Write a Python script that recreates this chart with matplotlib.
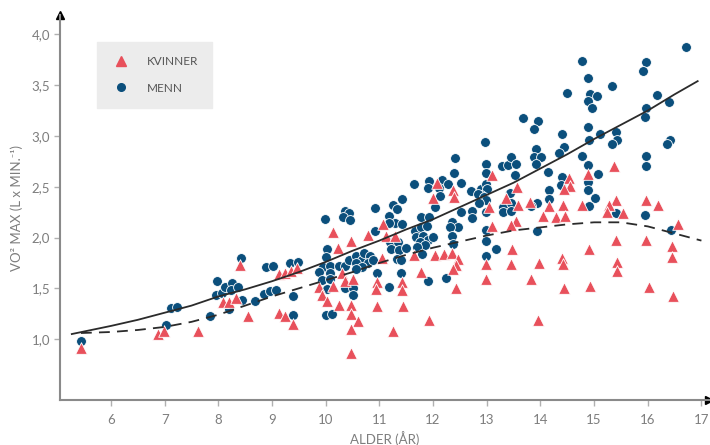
import matplotlib
matplotlib.use("Agg")
import matplotlib.pyplot as plt
from matplotlib.lines import Line2D

plt.rcParams['font.family'] = ['Lato', 'DejaVu Sans']

# ---- data ----
kvinner_x = [5.44, 6.88, 6.99, 7.62, 8.08, 8.20, 8.33, 8.41, 8.56, 9.13, 9.24, 9.35, 9.46, 9.13, 9.24, 9.40,
             10.13, 10.47, 10.78, 11.06, 11.12, 11.29, 10.23, 11.05, 10.31, 10.36, 10.50, 10.14, 9.87, 9.93,
             10.03, 10.25, 10.47, 10.48, 10.61, 10.47, 10.47, 10.95, 10.93, 10.95, 11.25, 11.42, 11.42, 11.44,
             11.92, 12.08, 12.38, 12.39, 12.00, 13.09, 13.04, 13.36, 13.10, 11.65, 12.03, 12.21, 12.36, 12.47,
             12.43, 12.38, 11.77, 12.99, 12.98, 12.42, 14.54, 14.56, 14.44, 14.89, 13.56, 13.59, 13.81, 14.16,
             14.42, 14.77, 14.04, 14.29, 14.46, 13.54, 13.46, 13.48, 14.91, 13.46, 13.97, 14.40, 14.42, 13.82,
             14.44, 14.92, 13.95, 15.37, 15.40, 15.27, 15.24, 15.54, 15.97, 16.20, 16.57, 15.40, 15.97, 16.45,
             16.45, 15.42, 15.42, 16.02, 16.47]
kvinner_y = [0.91, 1.05, 1.08, 1.08, 1.37, 1.37, 1.40, 1.73, 1.23, 1.64, 1.65, 1.67, 1.70, 1.26, 1.23, 1.15,
             2.05, 1.97, 2.03, 2.13, 2.02, 2.02, 1.90, 1.80, 1.65, 1.57, 1.59, 1.52, 1.51, 1.43,
             1.38, 1.34, 1.34, 1.25, 1.18, 1.10, 0.86, 1.56, 1.49, 1.33, 1.08, 1.56, 1.48, 1.33,
             1.19, 2.54, 2.47, 2.40, 2.39, 2.62, 2.30, 2.39, 2.11, 1.83, 1.83, 1.84, 1.85, 1.79,
             1.73, 1.69, 1.66, 1.74, 1.59, 1.50, 2.59, 2.51, 2.48, 2.63, 2.50, 2.32, 2.35, 2.31,
             2.32, 2.32, 2.21, 2.20, 2.21, 2.16, 2.12, 1.89, 1.89, 1.74, 1.75, 1.80, 1.74, 1.59,
             1.50, 1.52, 1.19, 2.70, 2.37, 2.32, 2.25, 2.24, 2.37, 2.32, 2.13, 1.98, 1.98, 1.92,
             1.81, 1.76, 1.67, 1.51, 1.42]

menn_x = [5.44, 7.12, 7.23, 7.03, 7.84, 7.97, 7.96, 8.07, 8.12, 8.25, 8.23, 8.37, 8.19, 8.45, 8.43, 8.89,
          9.02, 9.33, 9.48, 8.69, 8.85, 8.96, 9.07, 9.39, 9.39, 9.99, 10.36, 10.44, 10.32, 10.45, 10.92,
          11.25, 11.43, 11.32, 11.18, 11.29, 11.18, 10.92, 11.20, 11.34, 11.22, 11.37, 11.50, 11.32, 11.41,
          10.02, 10.00, 9.95, 10.08, 9.88, 10.08, 9.94, 10.08, 10.02, 10.25, 10.36, 10.44, 10.56, 10.67,
          10.72, 10.82, 10.78, 10.56, 10.67, 10.56, 10.88, 10.96, 11.40, 10.36, 10.50, 10.50, 11.18, 10.00,
          10.12, 12.96, 12.41, 12.39, 12.98, 12.98, 13.29, 13.40, 11.64, 11.92, 11.91, 12.17, 12.28, 12.11,
          12.13, 12.52, 12.70, 12.89, 12.98, 13.01, 12.89, 12.83, 12.95, 12.99, 12.03, 12.85, 12.73, 12.73,
          12.52, 12.98, 13.31, 13.31, 11.78, 11.93, 11.43, 11.66, 11.78, 11.89, 11.69, 11.82, 11.91, 11.75,
          12.00, 11.85, 12.35, 12.47, 12.31, 12.35, 12.38, 11.70, 11.80, 11.91, 12.25, 12.98, 13.17, 12.99,
          12.98, 14.77, 14.88, 14.50, 14.92, 15.05, 14.89, 14.96, 13.67, 13.95, 13.88, 14.40, 14.88, 14.91,
          13.91, 13.88, 14.02, 14.44, 14.35, 13.45, 13.54, 13.91, 13.53, 14.14, 14.77, 14.89, 14.40, 15.07,
          14.89, 14.89, 15.02, 14.91, 14.38, 14.16, 14.16, 13.44, 13.94, 13.46, 13.46, 13.83, 13.93, 16.72,
          15.96, 15.92, 15.34, 16.17, 16.40, 15.96, 15.94, 15.11, 15.40, 15.43, 15.33, 16.42, 16.36, 15.96,
          15.96, 15.40, 15.94, 16.44]
menn_y = [0.98, 1.31, 1.32, 1.14, 1.23, 1.57, 1.43, 1.45, 1.51, 1.55, 1.48, 1.51, 1.30, 1.39, 1.80, 1.71,
          1.72, 1.75, 1.76, 1.38, 1.44, 1.47, 1.48, 1.42, 1.24, 2.18, 2.26, 2.24, 2.20, 2.17, 2.29,
          2.32, 2.38, 2.28, 2.21, 2.14, 2.14, 2.06, 1.96, 1.96, 1.89, 1.88, 1.90, 1.79, 1.78,
          1.89, 1.81, 1.71, 1.72, 1.66, 1.65, 1.58, 1.59, 1.49, 1.72, 1.72, 1.78, 1.82, 1.78,
          1.85, 1.82, 1.75, 1.75, 1.71, 1.69, 1.78, 1.65, 1.65, 1.50, 1.50, 1.43, 1.51, 1.24,
          1.25, 2.94, 2.78, 2.64, 2.72, 2.64, 2.70, 2.71, 2.53, 2.56, 2.49, 2.57, 2.53, 2.49,
          2.41, 2.54, 2.46, 2.48, 2.53, 2.48, 2.42, 2.43, 2.40, 2.37, 2.30, 2.34, 2.26, 2.19,
          2.25, 2.25, 2.30, 2.25, 2.20, 2.20, 2.13, 2.06, 2.10, 2.11, 2.01, 2.02, 1.98, 1.96,
          2.01, 1.93, 2.15, 2.10, 2.10, 2.02, 1.94, 1.91, 1.84, 1.57, 1.60, 1.97, 1.89, 1.82,
          2.07, 3.74, 3.57, 3.42, 3.41, 3.39, 3.34, 3.28, 3.18, 3.15, 3.07, 3.02, 3.09, 2.96,
          2.87, 2.79, 2.79, 2.89, 2.83, 2.79, 2.72, 2.72, 2.62, 2.65, 2.80, 2.71, 2.60, 2.63,
          2.55, 2.47, 2.39, 2.31, 2.52, 2.47, 2.38, 2.44, 2.34, 2.34, 2.26, 2.31, 2.06, 3.88,
          3.73, 3.64, 3.49, 3.40, 3.33, 3.28, 3.19, 3.02, 3.04, 2.96, 2.92, 2.96, 2.92, 2.80,
          2.70, 2.24, 2.22, 2.07]

# trend lines
menn_fit_x = [5.27, 6.0, 6.5, 7.0, 7.5, 8.0, 8.5, 9.0, 9.5, 10.0, 10.5, 11.0, 11.5, 12.0, 12.5, 13.0,
              13.5, 14.0, 14.5, 15.0, 15.5, 16.0, 16.5, 16.93]
menn_fit_y = [1.05, 1.13, 1.19, 1.26, 1.33, 1.42, 1.49, 1.57, 1.66, 1.76, 1.87, 1.97, 2.08, 2.18, 2.30, 2.42,
              2.54, 2.68, 2.82, 2.97, 3.11, 3.25, 3.41, 3.54]
kvinner_fit_x = [5.44, 6.0, 6.5, 7.0, 7.5, 8.0, 8.5, 9.0, 9.5, 10.0, 10.5, 11.0, 11.5, 12.0, 12.5, 13.0,
                 13.5, 14.0, 14.5, 15.0, 15.5, 16.0, 16.5, 17.0]
kvinner_fit_y = [1.06, 1.07, 1.09, 1.12, 1.17, 1.24, 1.33, 1.42, 1.50, 1.58, 1.66, 1.75, 1.83, 1.90, 1.96, 2.02,
                 2.07, 2.10, 2.13, 2.15, 2.15, 2.11, 2.04, 1.97]

x_ticks = [6, 7, 8, 9, 10, 11, 12, 13, 14, 15, 16, 17]
y_ticks = [1.0, 1.5, 2.0, 2.5, 3.0, 3.5, 4.0]
y_tick_labels = ["1,0", "1,5", "2,0", "2,5", "3,0", "3,5", "4,0"]

RED = "#e8505b"
BLUE = "#0b4f7c"
GREY = "#7d7d7d"

fig = plt.figure(figsize=(7.1, 4.45), dpi=100)
ax = fig.add_axes([0.0845, 0.101, 0.914, 0.865])

ax.plot(menn_fit_x, menn_fit_y, color="#2b2b2b", lw=1.3, zorder=4)
ax.plot(kvinner_fit_x, kvinner_fit_y, color="#2b2b2b", lw=1.3, ls=(0, (6, 4)), zorder=4)

ax.scatter(menn_x, menn_y, marker="o", s=50, color=BLUE, edgecolors="white", linewidths=0.6, zorder=3)
ax.scatter(kvinner_x, kvinner_y, marker="^", s=70, color=RED, edgecolors="white", linewidths=0.6, zorder=3)

ax.set_xlim(5.05, 17.14)
ax.set_ylim(0.40, 4.19)
ax.set_xticks(x_ticks)
ax.set_yticks(y_ticks)
ax.set_yticklabels(y_tick_labels)

for s in ["top", "right"]:
    ax.spines[s].set_visible(False)
for s in ["left", "bottom"]:
    ax.spines[s].set_color("#8a8a8a")
    ax.spines[s].set_linewidth(1.5)

ax.tick_params(axis="both", colors="#b0b0b0", labelcolor=GREY, labelsize=9.5, length=4, width=1)
ax.tick_params(axis="x", pad=6)
ax.tick_params(axis="y", pad=3)

# arrow heads at the ends of the axes
ax.plot(1, 0, marker=">", color="black", markersize=6, transform=ax.transAxes, clip_on=False)
ax.plot(0, 1, marker="^", color="black", markersize=6, transform=ax.transAxes, clip_on=False)

ax.set_xlabel("ALDER (ÅR)", color=GREY, fontsize=9.5, labelpad=4)
ax.set_ylabel("VO² MAX (L x MIN.⁻¹)", color=GREY, fontsize=9.5, labelpad=6)

handles = [
    Line2D([], [], marker="^", ls="none", color=RED, markersize=7),
    Line2D([], [], marker="o", ls="none", color=BLUE, markersize=5.5),
]
leg = ax.legend(handles, ["KVINNER", "MENN"], loc="upper left", bbox_to_anchor=(0.057, 0.93),
                frameon=True, fancybox=False, facecolor="#ececec", edgecolor="#ececec", framealpha=1,
                fontsize=8.5, borderpad=1.2, labelspacing=1.3, handletextpad=1.4, handlelength=1.6,
                borderaxespad=0)
for t in leg.get_texts():
    t.set_color("#555555")

fig.savefig("out.png", dpi=100)
